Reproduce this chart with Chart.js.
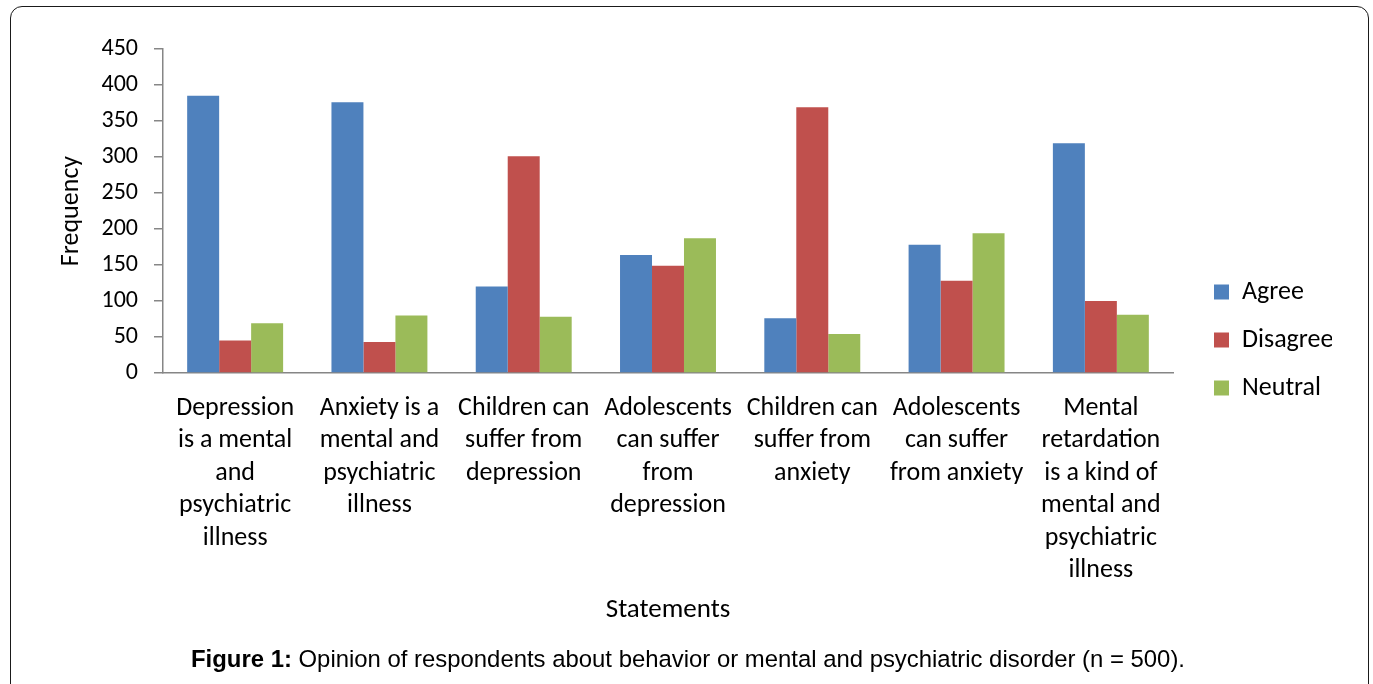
<!DOCTYPE html>
<html>
<head>
<meta charset="utf-8">
<title>Opinion of respondents</title>
<script src="https://cdn.jsdelivr.net/npm/chart.js@4.4.1/dist/chart.umd.min.js"></script>
<style>
    html, body {
        margin: 0;
        padding: 0;
        background: #ffffff;
        overflow: hidden;
    }
    #frame {
        position: absolute;
        left: 10px;
        top: 6px;
        width: 1357px;
        height: 690px;
        border: 1.5px solid #1a1a1a;
        border-radius: 12px;
    }
    #wrap {
        position: absolute;
        left: 0;
        top: 0;
        width: 1373px;
        height: 684px;
    }
    #caption {
        position: absolute;
        left: 0;
        width: 1376px;
        top: 645px;
        text-align: center;
        font-family: "Liberation Sans", Arial, sans-serif;
        font-size: 23.9px;
        color: #000;
        white-space: nowrap;
    }
</style>
</head>
<body>
<div id="frame"></div>
<div id="wrap"><canvas id="chart" width="1373" height="684"></canvas></div>
<div id="caption"><b>Figure 1:</b> Opinion of respondents about behavior or mental and psychiatric disorder (n = 500).</div>

<script>
// Statements (multi-line tick labels)
const statements = [
    ['Depression', 'is a mental', 'and', 'psychiatric', 'illness'],
    ['Anxiety is a', 'mental and', 'psychiatric', 'illness'],
    ['Children can', 'suffer from', 'depression'],
    ['Adolescents', 'can suffer', 'from', 'depression'],
    ['Children can', 'suffer from', 'anxiety'],
    ['Adolescents', 'can suffer', 'from anxiety'],
    ['Mental', 'retardation', 'is a kind of', 'mental and', 'psychiatric', 'illness']
];

// Frequencies per answer
const agree    = [385, 376, 120, 164, 76, 178, 319];
const disagree = [45, 43, 301, 149, 369, 128, 100];
const neutral  = [69, 80, 78, 187, 54, 194, 81];

const yTicks = { min: 0, max: 450, step: 50 };

const FONT = 'Carlito, Lato, sans-serif';
const AXIS_GREY = '#868686';

// Push the legend a little away from the plot
const legendShift = {
    id: 'legendShift',
    afterLayout(chart) {
        const lg = chart.legend;
        const dx = 19;
        lg.left += dx;
        lg.right += dx;
    }
};

window.addEventListener('load', () => {
    const ctx = document.getElementById('chart').getContext('2d');

    new Chart(ctx, {
        type: 'bar',
        data: {
            labels: statements,
            datasets: [
                { label: 'Agree', data: agree, backgroundColor: '#4F81BD' },
                { label: 'Disagree', data: disagree, backgroundColor: '#C0504D' },
                { label: 'Neutral', data: neutral, backgroundColor: '#9BBB59' }
            ]
        },
        options: {
            responsive: false,
            animation: false,
            events: [],
            layout: {
                padding: { left: 50, top: 49, right: 60, bottom: 53 }
            },
            datasets: {
                bar: {
                    categoryPercentage: 0.665,
                    barPercentage: 1.0
                }
            },
            plugins: {
                tooltip: { enabled: false },
                legend: {
                    position: 'right',
                    maxWidth: 140,
                    labels: {
                        boxWidth: 15,
                        boxHeight: 15,
                        padding: 22,
                        color: '#000',
                        font: { family: FONT, size: 26 }
                    }
                }
            },
            scales: {
                x: {
                    grid: { display: false, drawTicks: false },
                    border: { display: true, color: AXIS_GREY, width: 1.5 },
                    ticks: {
                        color: '#000',
                        autoSkip: false,
                        maxRotation: 0,
                        minRotation: 0,
                        padding: 19,
                        font: { family: FONT, size: 26, lineHeight: 1.25 }
                    },
                    title: {
                        display: true,
                        text: 'Statements',
                        color: '#000',
                        font: { family: FONT, size: 27 },
                        padding: { top: 4, bottom: 5 }
                    },
                    afterFit: (scale) => { scale.height = 258; }
                },
                y: {
                    min: yTicks.min,
                    max: yTicks.max,
                    grid: {
                        display: true,
                        drawOnChartArea: false,
                        drawTicks: true,
                        tickLength: 9,
                        color: AXIS_GREY,
                        lineWidth: 1.5
                    },
                    border: { display: true, color: AXIS_GREY, width: 1.5 },
                    ticks: {
                        stepSize: yTicks.step,
                        color: '#000',
                        padding: 16,
                        font: { family: FONT, size: 24 }
                    },
                    title: {
                        display: true,
                        text: 'Frequency',
                        color: '#000',
                        font: { family: FONT, size: 26 },
                        padding: { top: 6, bottom: 0 }
                    },
                    afterFit: (scale) => { scale.width = 113; }
                }
            }
        },
        plugins: [legendShift]
    });
});
</script>
</body>
</html>
